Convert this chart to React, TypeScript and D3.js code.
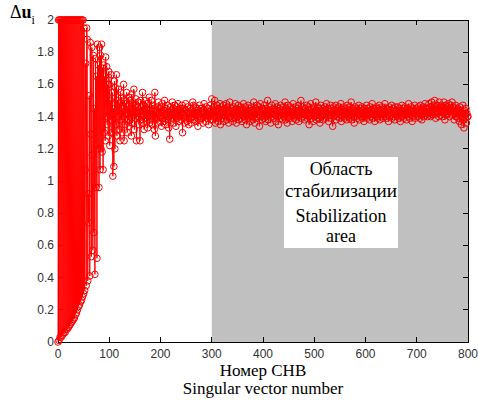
import React from "react";
import * as d3 from "d3";

// Values in hundredths (Δu_i * 100), by index ranges
const burst = [
  0, 200, 1, 200, 3, 200, 3, 200, 4, 200,
  5, 200, 6, 200, 6, 200, 8, 200, 8, 200,
  9, 200, 10, 200, 11, 200, 12, 200, 13, 200,
  14, 200, 15, 200, 17, 200, 18, 200, 20, 200,
  22, 200, 23, 200, 25, 200, 26, 200, 28, 200,
  30, 195, 32, 107, 173, 35, 195, 188, 38, 92,
  74, 153, 41, 186, 129, 53, 183, 116, 57, 178,
  68, 145, 42, 176, 96, 165, 52, 185, 120, 172,
];
const damping = [
  96, 183, 107, 178, 120, 185, 118, 170, 107, 172, 130, 165, 125, 177, 140, 171, 135, 160, 128, 168,
  160, 122, 150, 138, 166, 130, 155, 103, 145, 109, 162, 120, 158, 135, 166, 128, 150, 140, 157, 132,
  148, 125, 155, 138, 152, 130, 145, 140, 160, 125, 150, 135, 148, 142, 155, 130, 146, 138, 152, 134,
  150, 140, 145, 128, 154, 136, 148, 141, 157, 132, 147, 139, 151, 125, 146, 142, 140, 149, 135, 144,
  125, 150, 138, 146, 141, 155, 136, 147, 132, 143, 150, 139, 145, 137, 148, 133, 144, 141, 152, 136,
];
const settle = [
  144, 138, 150, 141, 135, 147, 140, 145, 132, 155, 128, 143, 139, 146, 141, 136, 149, 142, 137, 145,
  140, 146, 134, 143, 148, 139, 144, 137, 150, 141, 135, 145, 142, 138, 147, 140, 133, 143, 126, 146,
  141, 138, 144, 149, 139, 145, 136, 142, 147, 140, 134, 146, 143, 139, 148, 141, 137, 144, 140, 145,
  138, 143, 147, 130, 141, 145, 139, 136, 144, 148, 140, 142, 137, 146, 141, 135, 143, 139, 145, 142,
  136, 144, 140, 149, 147, 138, 143, 141, 146, 137, 142, 145, 139, 134, 144, 141, 147, 140, 138, 143,
  145, 139, 142, 136, 144, 148, 140, 143, 137, 146, 141, 139, 145, 142, 135, 143, 140, 147, 138, 141,
];
const stable = [
  151, 140, 143, 138, 146, 141, 150, 136, 144, 139, 147, 142, 137, 145, 140, 143, 148, 135, 142, 146,
  139, 144, 141, 147, 137, 143, 145, 140, 148, 138, 142, 146, 141, 136, 144, 149, 140, 143, 139, 145,
  142, 137, 146, 141, 144, 139, 148, 143, 136, 145, 140, 142, 147, 138, 144, 141, 146, 139, 143, 137,
  145, 141, 148, 140, 143, 138, 146, 142, 135, 144, 141, 147, 139, 143, 145, 137, 142, 146, 140, 144,
  138, 143, 149, 141, 136, 145, 142, 140, 147, 139, 144, 141, 146, 134, 143, 148, 140, 142, 138, 145,
  141, 144, 139, 147, 142, 137, 145, 140, 143, 150, 138, 142, 146, 141, 144, 136, 143, 147, 140, 142,
  145, 139, 143, 141, 148, 137, 144, 142, 146, 140, 135, 143, 145, 141, 147, 139, 142, 144, 138, 146,
  140, 143, 141, 149, 138, 145, 142, 136, 144, 147, 141, 143, 139, 146, 142, 140, 145, 137, 143, 148,
  141, 139, 144, 142, 146, 138, 143, 145, 140, 147, 137, 142, 144, 141, 150, 139, 143, 146, 140, 142,
  144, 138, 145, 141, 143, 147, 139, 142, 146, 140, 135, 144, 141, 148, 142, 139, 145, 143, 137, 146,
  142, 140, 144, 149, 138, 143, 141, 146, 139, 145, 142, 136, 144, 147, 140, 143, 141, 145, 138, 144,
  141, 146, 139, 143, 148, 140, 142, 145, 137, 144, 141, 143, 147, 139, 145, 142, 134, 143, 146, 140,
  144, 141, 147, 138, 143, 145, 140, 142, 146, 139, 144, 141, 148, 137, 143, 145, 140, 142, 146, 139,
  143, 141, 145, 138, 147, 142, 140, 144, 139, 146, 141, 143, 149, 138, 142, 145, 140, 144, 136, 143,
  146, 140, 142, 145, 139, 144, 141, 147, 138, 143, 145, 140, 142, 146, 139, 144, 141, 137, 145, 142,
  140, 144, 147, 139, 142, 145, 141, 143, 138, 146, 140, 144, 142, 148, 139, 143, 141, 145, 137, 144,
  142, 146, 140, 143, 139, 145, 141, 147, 138, 142, 144, 140, 146, 143, 139, 145, 141, 142, 148, 140,
  143, 139, 145, 141, 144, 137, 146, 142, 140, 144, 141, 147, 139, 143, 145, 140, 142, 138, 146, 143,
  141, 144, 140, 146, 142, 139, 145, 143, 137, 144, 141, 147, 140, 142, 145, 139, 143, 146, 141, 144,
  138, 143, 145, 140, 148, 142, 139, 144, 141, 146, 143, 137, 145, 140, 144, 142, 147, 139, 143, 145,
  141, 144, 140, 146, 142, 143, 139, 147, 141, 145, 138, 144, 142, 146, 140, 143, 148, 141, 145, 142,
  145, 140, 143, 142, 148, 141, 146, 140, 144, 149, 143, 141, 147, 145, 142, 150, 144, 139, 146, 143,
  147, 142, 145, 140, 149, 144, 141, 147, 143, 146, 140, 145, 142, 149, 144, 138, 147, 143, 145, 141,
  146, 142, 148, 144, 140, 147, 143, 145, 141, 149, 144, 142, 146, 138, 145, 143, 147, 140, 144, 142,
  145, 139, 143, 137, 146, 141, 144, 135, 142, 140, 147, 138, 133, 144, 141, 139, 145, 136, 142, 140,
  140,
];

const xTicks = [0, 100, 200, 300, 400, 500, 600, 700, 800];
const yTicks = [0, 0.2, 0.4, 0.6, 0.8, 1, 1.2, 1.4, 1.6, 1.8, 2];
const stabStart = 300;
const boxLines = ["Область", "стабилизации", "Stabilization", "area"];
const xTitle = ["Номер СНВ", "Singular vector number"];

const W = 478, H = 403;
const L = 58, R = 468, T = 20, B = 342;

export default function App() {
  const values = [...burst, ...damping, ...settle, ...stable].map((v) => v / 100);
  const data = values.map((v, i) => ({ x: i, y: v }));
  const x = d3.scaleLinear().domain([0, 800]).range([L, R]);
  const y = d3.scaleLinear().domain([0, 2]).range([B, T]);
  const line = d3.line<{ x: number; y: number }>().x((d) => x(d.x)).y((d) => y(d.y));
  const tickFont = "Liberation Sans, Arial, sans-serif";
  const serif = "Liberation Serif, DejaVu Serif, serif";
  const tl = 5;
  return (
    <svg width={W} height={H} style={{ position: "absolute", left: 0, top: 0, background: "#fff" }}>
      <rect x={x(stabStart)} y={T} width={x(800) - x(stabStart)} height={B - T} fill="#c0c0c0" />
      <g stroke="#000" strokeWidth={1} fill="none" shapeRendering="crispEdges">
        <rect x={L} y={T} width={R - L} height={B - T} />
        {xTicks.map((t) => (
          <g key={"xt" + t}>
            <line x1={x(t)} x2={x(t)} y1={B} y2={B - tl} />
            <line x1={x(t)} x2={x(t)} y1={T} y2={T + tl} />
          </g>
        ))}
        {yTicks.map((t) => (
          <g key={"yt" + t}>
            <line x1={L} x2={L + tl} y1={y(t)} y2={y(t)} />
            <line x1={R} x2={R - tl} y1={y(t)} y2={y(t)} />
          </g>
        ))}
      </g>
      <path d={line(data) || ""} fill="none" stroke="#ff0000" strokeWidth={1} />
      <g fill="none" stroke="#ff0000" strokeWidth={1}>
        {data.map((d) => (
          <circle key={d.x} cx={x(d.x)} cy={y(d.y)} r={3.3} />
        ))}
      </g>
      <g fontFamily={tickFont} fontSize={12} fill="#333">
        {xTicks.map((t) => (
          <text key={"xl" + t} x={x(t)} y={B + 16} textAnchor="middle">{t}</text>
        ))}
        {yTicks.map((t) => (
          <text key={"yl" + t} x={L - 4} y={y(t) + 4} textAnchor="end">{d3.format("~g")(t)}</text>
        ))}
      </g>
      <text x={10} y={18} fontFamily={serif} fontSize={18} fill="#000">
        Δ<tspan fontWeight="bold">u</tspan>
        <tspan fontSize={12} dy={6}>i</tspan>
      </text>
      {xTitle.map((s, i) => (
        <text key={s} x={(L + R) / 2} y={376 + i * 18} textAnchor="middle" fontFamily={serif} fontSize={17} fill="#000">{s}</text>
      ))}
      <rect x={284} y={157} width={114} height={91} fill="#fff" />
      {boxLines.map((s, i) => (
        <text key={s} x={341} y={[175, 197, 222, 242][i]} textAnchor="middle" fontFamily={serif} fontSize={18} fill="#000" textLength={i === 1 ? 112 : undefined} lengthAdjust="spacingAndGlyphs">{s}</text>
      ))}
    </svg>
  );
}
